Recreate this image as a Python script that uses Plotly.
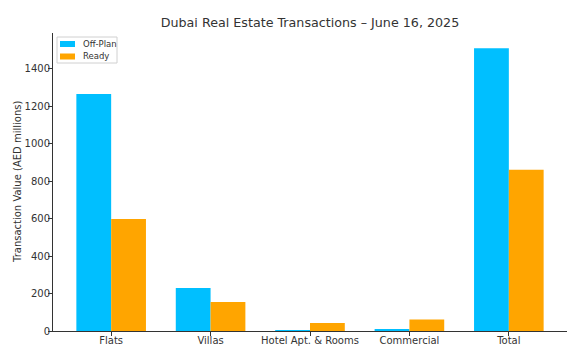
import plotly.graph_objects as go

categories = ["Flats", "Villas", "Hotel Apt. & Rooms", "Commercial", "Total"]
off_plan = [1266, 230, 5, 6, 1510]
ready = [598, 155, 43, 62, 862]
y_ticks = [0, 200, 400, 600, 800, 1000, 1200, 1400]
series_names = ["Off-Plan", "Ready"]
series_colors = ["#00BFFF", "#FFA500"]

x_idx = list(range(len(categories)))

L, R, T, B = 53, 19, 33, 23
W, H = 586, 354
pw = W - L - R
ph = H - T - B


def px_x(p):
    return (p - L) / pw


def px_y(p):
    return (H - B - p) / ph


fig = go.Figure()
for name, vals, col in zip(series_names, [off_plan, ready], series_colors):
    fig.add_trace(go.Bar(x=x_idx, y=vals, name=name, marker_color=col,
                         marker_line_width=0, showlegend=False))

# compact matplotlib-style legend
shapes = [dict(type="rect", xref="paper", yref="paper",
               x0=px_x(57), x1=px_x(117), y0=px_y(63), y1=px_y(37),
               line=dict(color="#d0d0d0", width=1), fillcolor="rgba(255,255,255,0.8)",
               layer="above")]
annotations = []
for i, (name, col) in enumerate(zip(series_names, series_colors)):
    cy = 44 + i * 12.5
    shapes.append(dict(type="rect", xref="paper", yref="paper",
                       x0=px_x(60), x1=px_x(75), y0=px_y(cy + 3), y1=px_y(cy - 3),
                       line=dict(width=0), fillcolor=col, layer="above"))
    annotations.append(dict(text=name, xref="paper", yref="paper", x=px_x(81), y=px_y(cy),
                            xanchor="left", yanchor="middle", showarrow=False,
                            font=dict(size=8.5, color="#333333")))

annotations.append(dict(text="Transaction Value (AED millions)", xref="paper", yref="paper",
                        x=px_x(17), y=0.5, xanchor="center", yanchor="middle",
                        textangle=-90, showarrow=False,
                        font=dict(size=10, color="#333333")))

fig.update_layout(
    width=W, height=H,
    margin=dict(l=L, r=R, t=T, b=B, autoexpand=False),
    barmode="group", bargap=0.3, bargroupgap=0,
    plot_bgcolor="white", paper_bgcolor="white",
    font=dict(family="DejaVu Sans", color="#333333", size=10),
    title=dict(text="Dubai Real Estate Transactions – June 16, 2025",
               x=(L + W - R) / 2 / W, xanchor="center", y=1 - 23 / H, yanchor="middle",
               font=dict(size=12.7, color="#333333")),
    showlegend=False,
    shapes=shapes,
    annotations=annotations,
)
fig.update_xaxes(
    tickmode="array", tickvals=x_idx, ticktext=categories, automargin=False,
    range=[-0.585, 4.585], showgrid=False, showline=True, linecolor="#333333",
    linewidth=1, ticks="outside", ticklen=4, tickcolor="#333333",
    tickfont=dict(size=10, color="#333333"), zeroline=False, ticklabelstandoff=-4,
)
fig.update_yaxes(
    range=[0, 1592], tickmode="array", tickvals=y_ticks, showgrid=False, automargin=False,
    showline=True, linecolor="#333333", linewidth=1, ticks="outside", ticklen=4,
    tickcolor="#333333", tickfont=dict(size=10, color="#333333"), zeroline=False,
    ticklabelstandoff=-4,
)

fig.write_html("out.html")
